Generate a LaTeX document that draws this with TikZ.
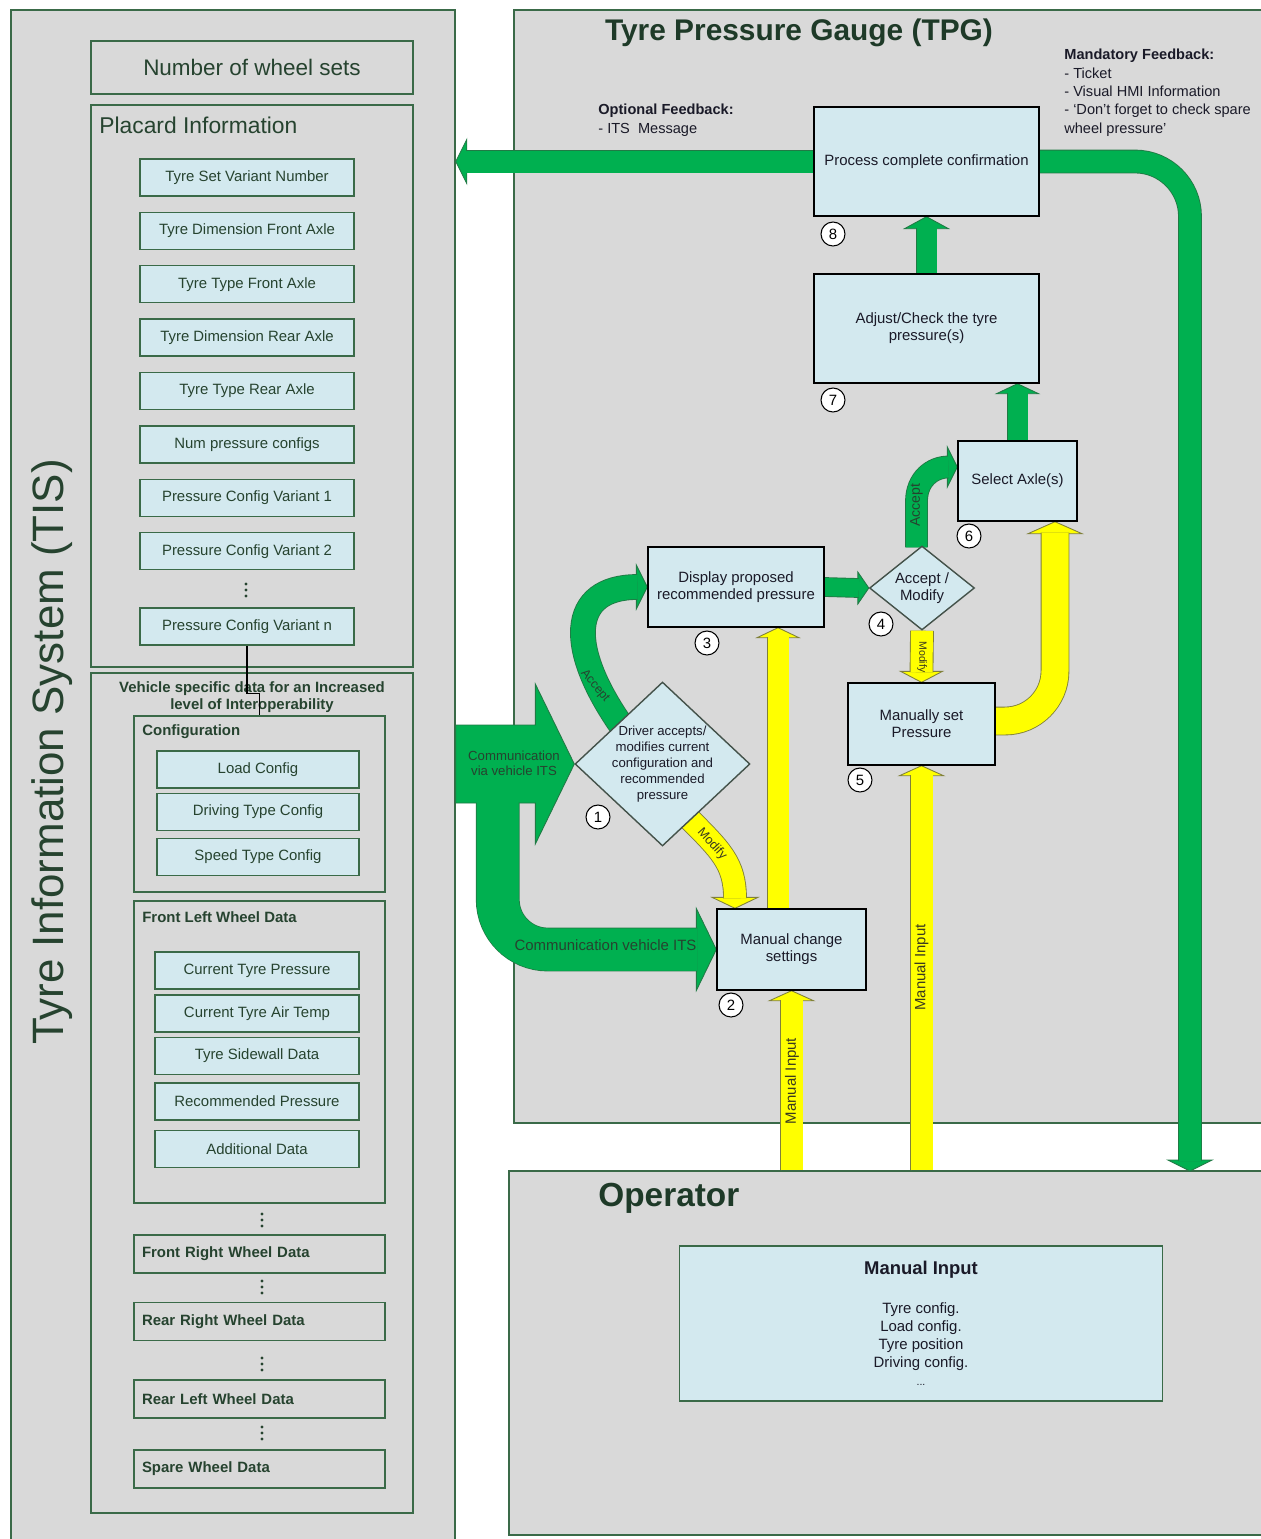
\documentclass[tikz,border=0pt]{standalone}
\usepackage{fontspec}
\setmainfont{Liberation Sans}
\usepackage{tikz}
\usetikzlibrary{shapes.geometric}
\usetikzlibrary{calc,fit}
\definecolor{pgray}{HTML}{D9D9D9}
\definecolor{pgreen}{HTML}{3A6A48}
\definecolor{tistext}{HTML}{26432F}
\definecolor{lblue}{HTML}{D3E9EF}
\definecolor{grn}{HTML}{00B050}
\definecolor{gline}{HTML}{217A45}
\definecolor{ylw}{HTML}{FFFF00}
\definecolor{yline}{HTML}{80803A}
\definecolor{ylwtext}{HTML}{3A3A20}
\definecolor{dark}{HTML}{1A1A28}
\definecolor{ttitle}{HTML}{1E3A28}
\definecolor{dgray}{HTML}{44524A}
\pgfdeclarelayer{back}
\pgfdeclarelayer{flow}
\pgfsetlayers{back,flow,main}
\tikzset{
    every node/.style={font=\fontsize{8.5}{9.8}\selectfont},
    panel/.style={draw=pgreen, fill=pgray, line width=0.85pt, inner sep=0pt},
    frame/.style={draw=pgreen, line width=0.85pt, inner sep=0pt},
    tisbox/.style={draw=pgreen, fill=lblue, line width=0.85pt, text=tistext, minimum height=0.74cm},
    wheelbox/.style={draw=pgreen, line width=0.85pt, text=tistext, text width=4.7cm, inner xsep=0.16cm,
        minimum height=0.76cm, align=left, font=\bfseries\fontsize{8.5}{10}\selectfont},
    tpgbox/.style={draw=black, fill=lblue, line width=0.8pt, text=dark, align=center, inner sep=1pt},
    choice/.style={diamond, aspect=1.07, draw=dgray, fill=lblue, line width=0.8pt, text=dark, align=center, inner sep=-2pt},
    num/.style={circle, draw=black, fill=white, line width=0.6pt, inner sep=0pt, minimum size=0.48cm, text=black},
    gband/.style={draw=gline, double=grn, double distance=#1, line width=0.5pt},
    yband/.style={draw=yline, double=ylw, double distance=#1, line width=0.5pt},
    ghead/.style={fill=grn, draw=gline, line width=0.5pt},
    yhead/.style={fill=ylw, draw=yline, line width=0.5pt},
    pics/head/.style 2 args={code={\path[pic actions] (0,0) -- (-#1,#2) -- (-#1,-#2) -- cycle;}}
}
\begin{document}
\begin{tikzpicture}[x=0.02cm, y=-0.02cm]
    \useasboundingbox (0,0) rectangle (1261,1539);

    \begin{pgfonlayer}{back}
        \fill[white] (0,0) rectangle (1261,1539);
        \node[panel, fit={(11,10) (455,1545)}] (tis) {};
        \node[panel, fit={(514,10) (1275,1123)}] (tpg) {};
        \node[panel, fit={(509,1171) (1275,1535)}] (opr) {};
    \end{pgfonlayer}

    \node[rotate=90, text=tistext, font=\fontsize{25}{30}\selectfont] (tistitle) at (52,752) {Tyre Information System (TIS)};
    \node[frame, fit={(91,41) (413,94)}] (nws) {};
    \node[text=tistext, font=\fontsize{12.8}{15}\selectfont] (nwslab) at (252,67) {Number of wheel sets};

    \node[frame, fit={(91,105) (413,667)}] (plc) {};
    \node[anchor=west, inner sep=0pt, text=tistext, font=\fontsize{13}{15}\selectfont] (plctitle) at (99,125) {Placard Information};
    \foreach \t [count=\i] in {Tyre Set Variant Number, Tyre Dimension Front Axle, Tyre Type Front Axle,
        Tyre Dimension Rear Axle, Tyre Type Rear Axle, Num pressure configs,
        Pressure Config Variant 1, Pressure Config Variant 2}
        \node[tisbox, minimum width=4.28cm] (pl\i) at (247,124+53.4*\i) {\t};
    \node[tisbox, minimum width=4.28cm] (pln) at (247,626.5) {Pressure Config Variant n};

    \node[frame, fit={(91,673) (413,1513)}] (veh) {};
    \node[align=center, text=tistext, font=\bfseries\fontsize{8.5}{9.7}\selectfont] (vehtitle) at (252,697.5) {Vehicle specific data for an Increased\\level of Interoperability};

    \node[frame, fit={(134,716) (385,892)}] (cfg) {};
    \node[anchor=west, inner sep=0pt, text=tistext, font=\bfseries\fontsize{8.5}{10}\selectfont] (cfgtitle) at (142,732) {Configuration};
    \foreach \t/\y [count=\i] in {Load Config/769.5, Driving Type Config/812, Speed Type Config/857}
        \node[tisbox, minimum width=4.04cm] (cf\i) at (258,\y) {\t};

    \node[frame, fit={(134,901) (385,1203)}] (flw) {};
    \node[anchor=west, inner sep=0pt, text=tistext, font=\bfseries\fontsize{8.5}{10}\selectfont] (flwtitle) at (142,917) {Front Left Wheel Data};
    \foreach \t/\y [count=\i] in {Current Tyre Pressure/970.5, Current Tyre Air Temp/1013.5, Tyre Sidewall Data/1056,
        Recommended Pressure/1101.5, Additional Data/1149}
        \node[tisbox, minimum width=4.08cm] (fl\i) at (257,\y) {\t};

    \foreach \t/\y [count=\i] in {Front Right Wheel Data/1254, Rear Right Wheel Data/1321.5,
        Rear Left Wheel Data/1399, Spare Wheel Data/1469}
        \node[wheelbox] (wh\i) at (259.5,\y) {\t};

    \foreach \x/\y in {246/590, 262/1220, 262/1287, 262/1364, 262/1433}
        \foreach \d in {-6,0,6} \fill[tistext] (\x,{\y+\d}) circle (0.9pt);

    \draw[line width=0.8pt] (pln.south) -- ++(0,48) -| (cfg.north);

    \node[text=ttitle, font=\bfseries\fontsize{17}{20}\selectfont] (tpgtitle) at (799,33) {Tyre Pressure Gauge (TPG)};
    \node[anchor=west, inner sep=0pt, align=left, text=dark, font=\fontsize{8.3}{10.8}\selectfont] (optfb) at (598,120.5)
        {\textbf{Optional Feedback:}\\- ITS\ \ Message};
    \node[anchor=north west, inner sep=0pt, align=left, text=dark, font=\fontsize{8.3}{10.4}\selectfont] (manfb) at (1064,49)
        {\textbf{Mandatory Feedback:}\\- Ticket\\- Visual HMI Information\\- `Don't forget to check spare\\wheel pressure'};

    \node[tpgbox, minimum width=4.5cm, minimum height=2.18cm] (proc) at (926.5,161.5) {Process complete confirmation};
    \node[tpgbox, minimum width=4.5cm, minimum height=2.18cm] (adj) at (926.5,328.5) {Adjust/Check the tyre\\pressure(s)};
    \node[tpgbox, minimum width=2.38cm, minimum height=1.6cm] (sel) at (1017.5,481) {Select Axle(s)};
    \node[tpgbox, minimum width=3.52cm, minimum height=1.6cm] (disp) at (736,587) {Display proposed\\recommended pressure};
    \node[choice, minimum width=2.1cm, minimum height=1.68cm] (acc) at (922,588) {Accept /\\Modify};
    \node[tpgbox, minimum width=2.94cm, minimum height=1.64cm] (msp) at (921.5,724) {Manually set\\Pressure};
    \node[choice, minimum width=3.5cm, minimum height=3.28cm, font=\fontsize{7.5}{9.2}\selectfont] (drv) at (662.5,764)
        {Driver accepts/\\modifies current\\configuration and\\recommended\\pressure};
    \node[tpgbox, minimum width=2.98cm, minimum height=1.62cm] (mcs) at (791.5,949.5) {Manual change\\settings};

    \foreach \n/\x/\y in {1/598/817, 2/731/1005, 3/707/643, 4/881/624, 5/860/780, 6/969/536, 7/833/400, 8/833/234}
        \node[num] (n\n) at (\x,\y) {\n};

    \node[anchor=west, inner sep=0pt, text=ttitle, font=\bfseries\fontsize{19}{22}\selectfont] (oprtitle) at (598,1198) {Operator};
    \node[tpgbox, draw=pgreen, minimum width=9.66cm, minimum height=3.1cm, font=\fontsize{8.5}{10.2}\selectfont] (minp) at (921,1323.5)
        {{\bfseries\fontsize{10.5}{12}\selectfont Manual Input}\\[12pt]Tyre config.\\Load config.\\Tyre position\\Driving config.\\{\fontsize{6}{8}\selectfont ...}};

    \begin{pgfonlayer}{flow}
        \pic[ghead, rotate=180] at (tis.east |- proc.west) {head={11}{22}};
        \draw[gband=0.44cm] (proc.west) -- ($(tis.east |- proc.west)+(10,0)$);

        \coordinate (mtip) at (1190,1171);
        \pic[ghead, rotate=-90] at (mtip) {head={11}{22}};
        \draw[gband=0.44cm, rounded corners=1.1cm] (proc.east) -| ($(mtip)+(0,-10)$);

        \pic[ghead, rotate=90] at (proc.south) {head={12}{22}};
        \draw[gband=0.4cm] (adj.north) -- ($(proc.south)+(0,11)$);

        \pic[ghead, rotate=90] at (adj.south -| sel.north) {head={10}{21}};
        \draw[gband=0.4cm] (sel.north) -- ($(adj.south -| sel.north)+(0,9)$);

        \pic[ghead] at (acc.west) {head={11}{16}};
        \draw[gband=0.36cm] (disp.east) -- ($(acc.west)+(-10,0)$);

        \pic[ghead] at ($(sel.west)+(0,-14)$) {head={10}{20}};
        \draw[gband=0.42cm] ($(acc.north)+(-5.5,2)$) -- ++(0,-46) .. controls +(0,-22) and +(-16,0) .. ($(sel.west)+(-9,-14)$);

        \pic[ghead] at (disp.west) {head={11}{22}};
        \draw[gband=0.48cm] ($(drv.north west)+(8,10)$) .. controls +(-62,-85) and +(-68,0) .. ($(disp.west)+(-10,0)$);

        \pic[ghead] at (mcs.west) {head={20}{41}};
        \draw[gband=0.84cm, rounded corners=1cm] ($(tis.east |- drv.west)+(42,30)$) |- ($(mcs.west)+(-19,0)$);
        \filldraw[ghead] ($(tis.east |- drv.west)+(0,-39)$) -- ($(drv.west)+(-39,-39)$) -- ($(drv.west)+(-39,-80)$) -- (drv.west)
            -- ($(drv.west)+(-39,80)$) -- ($(drv.west)+(-39,39)$) -- ($(tis.east |- drv.west)+(0,39)$) -- cycle;
        \draw[grn, line width=0.84cm, rounded corners=1cm] ($(tis.east |- drv.west)+(42,30)$) |- ($(mcs.west)+(-19,0)$);

        \pic[yhead, rotate=-90] at ($(mcs.north)+(-56.5,0)$) {head={11}{23}};
        \draw[yband=0.44cm] ($(drv.east)!0.68!(drv.south)+(-5,-5)$) .. controls +(35,35) and +(0,-35) .. ($(mcs.north)+(-56.5,-10)$);

        \pic[yhead, rotate=90] at ($(disp.south)+(42,0)$) {head={10}{21}};
        \draw[yband=0.42cm] ($(mcs.north)+(-13.5,0)$) -- ($(disp.south)+(42,9)$);

        \pic[yhead, rotate=-90] at (msp.north) {head={11}{21}};
        \draw[yband=0.44cm] (acc.south) -- ($(msp.north)+(0,-10)$);

        \pic[yhead, rotate=90] at ($(sel.south)+(37.5,0)$) {head={12}{27}};
        \draw[yband=0.54cm, rounded corners=1cm] ($(msp.east)+(-2,-3)$) -| ($(sel.south)+(37.5,11)$);

        \pic[yhead, rotate=90] at (mcs.south) {head={10}{22}};
        \draw[yband=0.44cm] (opr.north -| mcs.south) -- ($(mcs.south)+(0,9)$);
        \pic[yhead, rotate=90] at (msp.south) {head={10}{22}};
        \draw[yband=0.44cm] (opr.north -| msp.south) -- ($(msp.south)+(0,9)$);
    \end{pgfonlayer}

    \node[align=center, text=tistext, font=\fontsize{7.5}{8.6}\selectfont] (comlab1) at (514,763.5) {Communication\\via vehicle ITS};
    \node[text=tistext] (comlab2) at (605.5,945) {Communication vehicle ITS};
    \node[rotate=-50, text=tistext, font=\fontsize{7}{8}\selectfont] (acclab1) at (595,686) {Accept};
    \node[rotate=90, text=tistext, font=\fontsize{8}{9}\selectfont] (acclab2) at (916.5,505) {Accept};
    \node[rotate=-48, text=ylwtext, font=\fontsize{7.2}{8}\selectfont] (modlab1) at (712,844) {Modify};
    \node[rotate=-90, text=ylwtext, font=\fontsize{6}{7}\selectfont] (modlab2) at (922,657) {Modify};
    \node[rotate=90, text=ylwtext] (milab1) at (792,1081) {Manual Input};
    \node[rotate=90, text=ylwtext] (milab2) at (921.5,967.5) {Manual Input};

\end{tikzpicture}
\end{document}
